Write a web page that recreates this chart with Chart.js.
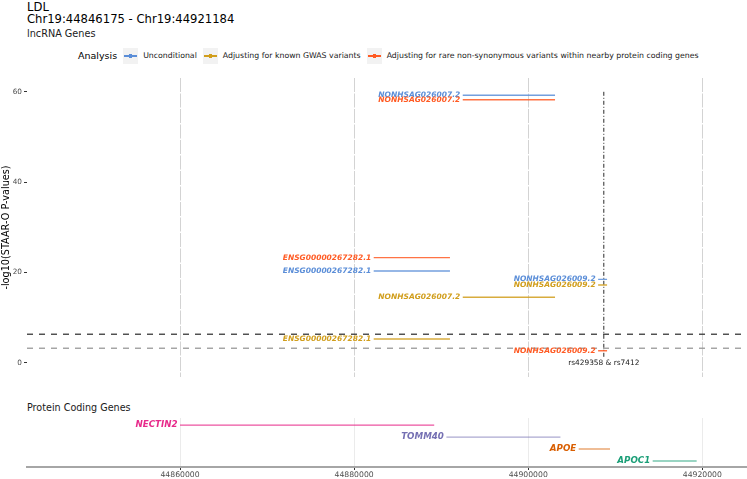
<!DOCTYPE html>
<html>
<head>
<meta charset="utf-8">
<script src="https://cdn.jsdelivr.net/npm/chart.js@4/dist/chart.umd.min.js"></script>
<style>
  body { margin: 0; background: #fff; font-family: "DejaVu Sans", sans-serif; }
  #wrap { position: relative; width: 747px; height: 479px; overflow: hidden; background: #fff; }
  .ttl { position: absolute; left: 27px; white-space: nowrap; color: #000; line-height: 1; }
  #legend { position: absolute; left: 78px; top: 47px; height: 17px; display: flex; align-items: center; white-space: nowrap; }
  #legend .lt { font-size: 9.5px; color: #000; margin-right: 6px; }
  #legend .key { position: relative; width: 15px; height: 16px; background: #f2f2f2; margin-right: 5px; }
  #legend .key .ln { position: absolute; left: 1px; right: 1px; top: 7.5px; height: 1.5px; }
  #legend .key .pt { position: absolute; left: 6px; top: 6px; width: 3px; height: 4px; }
  #legend .lab { font-size: 7.8px; color: #1a1a1a; margin-right: 6px; }
  canvas { position: absolute; left: 0; }
</style>
</head>
<body>
<div id="wrap">
  <div class="ttl" style="top:2px;font-size:11.6px">LDL</div>
  <div class="ttl" style="top:13.5px;font-size:11.6px">Chr19:44846175 - Chr19:44921184</div>
  <div class="ttl" style="top:29px;font-size:9.7px;color:#1a1a1a">lncRNA Genes</div>
  <div id="legend"><span class="lt">Analysis</span></div>
  <canvas id="topChart" width="747" height="299" style="top:78px"></canvas>
  <div class="ttl" style="top:403px;font-size:9.6px;color:#1a1a1a">Protein Coding Genes</div>
  <canvas id="geneChart" width="747" height="61" style="top:418px"></canvas>
</div>
<script>
// ================= data =================
var analyses = ['Unconditional', 'Adjusting for known GWAS variants', 'Adjusting for rare non-synonymous variants within nearby protein coding genes'];
var lncGenes = ['NONHSAG026007.2', 'ENSG00000267282.1', 'NONHSAG026009.2'];
var lncStart = [44892480, 44882250, 44908030];
var lncEnd = [44903080, 44891010, 44909060];
var unconditional = [59.2, 20.3, 18.45];
var gwasAdjusted = [14.5, 5.25, 17.2];
var rareAdjusted = [58.2, 23.25, 2.65];

var proteinGenes = ['NECTIN2', 'TOMM40', 'APOE', 'APOC1'];
var proteinStart = [44860000, 44890600, 44905800, 44914300];
var proteinEnd = [44889200, 44903700, 44909400, 44919350];
var proteinRow = [4, 3, 2, 1];

var xTicks = [44860000, 44880000, 44900000, 44920000];
var yTicks = [0, 20, 40, 60];
var thresholds = [6.3, 3.2];
var snpPos = 44908684;
var snpRange = [1.3, 60];
var snpLabel = 'rs429358 & rs7412';

// ================= styles =================
var xMin = 44842420, xMax = 44925135;
var analysisColors = ['#5B8ED8', '#D19E1C', '#FF5B24'];
var analysisLines = ['rgba(91,142,216,0.85)', 'rgba(209,158,28,0.85)', 'rgba(255,91,36,0.85)'];
var geneColors = ['#E7298A', '#7570B3', '#D95F02', '#1B9E77'];
var geneLines = ['rgba(231,41,138,0.8)', 'rgba(117,112,179,0.6)', 'rgba(217,95,2,0.55)', 'rgba(27,158,119,0.6)'];
var threshColors = ['#3a3a3a', '#9a9a9a'];
var FONT = '"DejaVu Sans", sans-serif';

Chart.defaults.font.family = FONT;
Chart.defaults.animation = false;

// legend (html)
var legend = document.getElementById('legend');
for (var a = 0; a < analyses.length; a++) {
  var key = document.createElement('span');
  key.className = 'key';
  key.innerHTML = '<span class="ln" style="background:' + analysisColors[a] + '"></span>' +
                  '<span class="pt" style="background:' + analysisColors[a] + '"></span>';
  var lab = document.createElement('span');
  lab.className = 'lab';
  lab.textContent = analyses[a];
  legend.appendChild(key);
  legend.appendChild(lab);
}

// draws the gene name at the left end of each segment
var segLabelPlugin = {
  id: 'segLabels',
  afterDatasetsDraw: function(chart) {
    var ctx = chart.ctx;
    var xs = chart.scales.x, ys = chart.scales.y;
    chart.data.datasets.forEach(function(ds) {
      if (!ds.segLabels) return;
      ctx.save();
      ctx.font = ds.labelFont;
      ctx.fillStyle = ds.labelColor;
      ctx.textAlign = 'right';
      ctx.textBaseline = 'middle';
      ds.segLabels.forEach(function(l) {
        ctx.fillText(l.text, xs.getPixelForValue(l.x) - 2.5, ys.getPixelForValue(l.y));
      });
      ctx.restore();
    });
    if (chart.options.snpText) {
      ctx.save();
      ctx.font = '7.4px ' + FONT;
      ctx.fillStyle = '#1a1a1a';
      ctx.textAlign = 'center';
      ctx.textBaseline = 'middle';
      ctx.fillText(chart.options.snpText, xs.getPixelForValue(snpPos), ys.getPixelForValue(0) + 0.5);
      ctx.restore();
    }
  }
};

function segData(starts, ends, vals) {
  var pts = [];
  for (var i = 0; i < starts.length; i++) {
    pts.push({x: starts[i], y: vals[i]});
    pts.push({x: ends[i], y: vals[i]});
    pts.push({x: ends[i], y: null});
  }
  return pts;
}

//============= chart 1: lncRNA ==============
var topSets = [];
var seriesVals = [unconditional, gwasAdjusted, rareAdjusted];
for (var s = 0; s < analyses.length; s++) {
  var labs = [];
  for (var g = 0; g < lncGenes.length; g++) {
    labs.push({text: lncGenes[g], x: lncStart[g], y: seriesVals[s][g]});
  }
  topSets.push({
    label: analyses[s],
    data: segData(lncStart, lncEnd, seriesVals[s]),
    borderColor: analysisLines[s],
    borderWidth: 1.4,
    pointRadius: 0,
    spanGaps: false,
    segLabels: labs,
    labelColor: analysisColors[s],
    labelFont: 'italic bold 7.5px ' + FONT
  });
}
for (var t = 0; t < thresholds.length; t++) {
  topSets.push({
    data: [{x: xMin, y: thresholds[t]}, {x: xMax, y: thresholds[t]}],
    borderColor: threshColors[t],
    borderWidth: 1.3,
    borderDash: [6, 6],
    pointRadius: 0
  });
}
topSets.push({
  data: [{x: snpPos, y: snpRange[0]}, {x: snpPos, y: snpRange[1]}],
  borderColor: '#2a2a2a',
  borderWidth: 1,
  borderDash: [4, 2, 1, 2],
  pointRadius: 0
});

new Chart(document.getElementById('topChart'), {
  type: 'line',
  data: {datasets: topSets},
  options: {
    responsive: false,
    devicePixelRatio: 1,
    snpText: snpLabel,
    layout: {padding: 0},
    plugins: {legend: {display: false}, tooltip: {enabled: false}},
    scales: {
      x: {
        type: 'linear', min: xMin, max: xMax,
        afterBuildTicks: function(scale) { scale.ticks = xTicks.map(function(v) { return {value: v}; }); },
        afterFit: function(scale) { scale.height = 0; scale.paddingLeft = 0; scale.paddingRight = 0; },
        ticks: {display: false},
        grid: {color: '#d3d3d3', lineWidth: 1, drawTicks: false},
        border: {display: false, dash: [14, 1.5]}
      },
      y: {
        type: 'linear', min: -3.17, max: 63.03,
        afterBuildTicks: function(scale) { scale.ticks = yTicks.map(function(v) { return {value: v}; }); },
        afterFit: function(scale) { scale.width = 27; scale.paddingTop = 0; scale.paddingBottom = 0; },
        ticks: {font: {size: 7.3}, color: '#4d4d4d', padding: 2},
        grid: {drawOnChartArea: false, tickLength: 3, tickColor: '#333'},
        border: {display: false},
        title: {display: true, text: '-log10(STAAR-O P-values)', font: {size: 9.7}, color: '#000', padding: {top: 1, bottom: 0}}
      }
    }
  },
  plugins: [segLabelPlugin]
});

//============= chart 2: protein coding genes ==============
var geneSets = [];
for (var p = 0; p < proteinGenes.length; p++) {
  geneSets.push({
    label: proteinGenes[p],
    data: [{x: proteinStart[p], y: proteinRow[p]}, {x: proteinEnd[p], y: proteinRow[p]}],
    borderColor: geneLines[p],
    borderWidth: 1.4,
    pointRadius: 0,
    segLabels: [{text: proteinGenes[p], x: proteinStart[p], y: proteinRow[p]}],
    labelColor: geneColors[p],
    labelFont: 'italic bold 8.7px ' + FONT
  });
}

new Chart(document.getElementById('geneChart'), {
  type: 'line',
  data: {datasets: geneSets},
  options: {
    responsive: false,
    devicePixelRatio: 1,
    layout: {padding: {left: 27, right: 0, top: 0, bottom: 0}},
    plugins: {legend: {display: false}, tooltip: {enabled: false}},
    scales: {
      x: {
        type: 'linear', min: xMin, max: xMax,
        afterBuildTicks: function(scale) { scale.ticks = xTicks.map(function(v) { return {value: v}; }); },
        afterFit: function(scale) { scale.height = 12; scale.paddingLeft = 0; scale.paddingRight = 0; },
        ticks: {font: {size: 7.7}, color: '#4d4d4d', padding: 0, maxRotation: 0, callback: function(v) { return String(v); }},
        grid: {color: '#ebebeb', lineWidth: 1, tickLength: 3, tickColor: '#333'},
        border: {display: true, color: '#a6a6a6', width: 2}
      },
      y: {type: 'linear', min: 0.5, max: 4.6, display: false}
    }
  },
  plugins: [segLabelPlugin]
});
</script>
</body>
</html>
